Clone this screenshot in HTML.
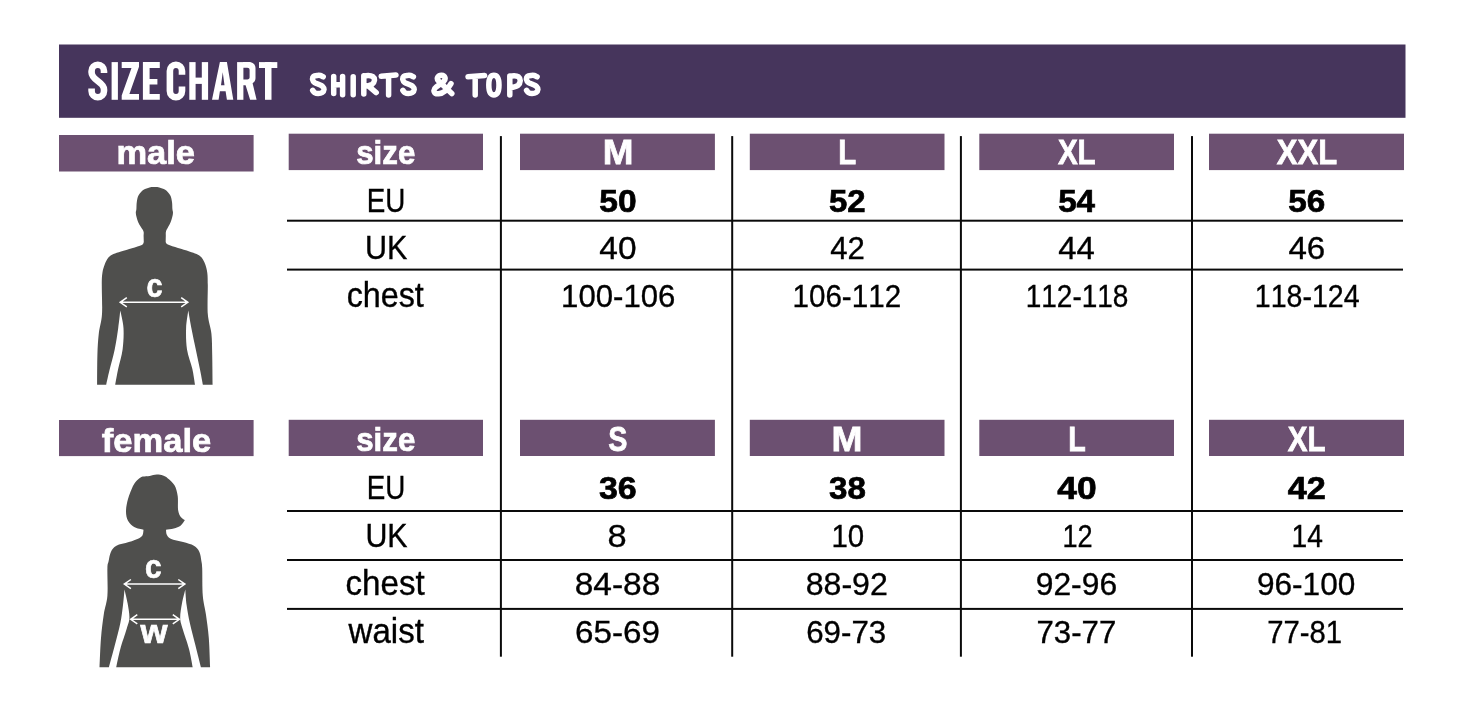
<!DOCTYPE html>
<html lang="en"><head><meta charset="utf-8"><title>Size chart - shirts &amp; tops</title>
<style>
html,body{margin:0;padding:0;background:#fff;}
body{width:1476px;height:709px;position:relative;overflow:hidden;font-family:"Liberation Sans",sans-serif;}
.b,.l,.t,svg{position:absolute;}
.l{background:#0a0a0a;}
.t{left:0;top:0;white-space:nowrap;font-kerning:none;font-variant-ligatures:none;font-size:32px;line-height:32px;transform-origin:0 0;}
.t{-webkit-text-stroke:0.35px currentColor;}
.bd{font-weight:bold;-webkit-text-stroke:0.7px currentColor;}
svg{left:0;top:0;}
#tx{position:absolute;left:0;top:0;width:1476px;height:709px;will-change:transform;}
</style></head><body>
<svg width="1476" height="709" viewBox="0 0 1476 709">
<rect x="59" y="44.5" width="1346.5" height="73.3" fill="#46355c"/>
<rect x="59" y="135" width="194.6" height="36.5" fill="#6c5071"/>
<rect x="288.7" y="133.7" width="194.3" height="36.4" fill="#6c5071"/>
<rect x="520" y="133.7" width="194.9" height="36.4" fill="#6c5071"/>
<rect x="749.8" y="133.7" width="194.7" height="36.4" fill="#6c5071"/>
<rect x="979.3" y="133.7" width="194.7" height="36.4" fill="#6c5071"/>
<rect x="1209" y="133.7" width="195.0" height="36.4" fill="#6c5071"/>
<rect x="59" y="420" width="194.6" height="36.1" fill="#6c5071"/>
<rect x="288.7" y="419.8" width="194.3" height="36.2" fill="#6c5071"/>
<rect x="520" y="419.8" width="194.9" height="36.2" fill="#6c5071"/>
<rect x="749.8" y="419.8" width="194.7" height="36.2" fill="#6c5071"/>
<rect x="979.3" y="419.8" width="194.7" height="36.2" fill="#6c5071"/>
<rect x="1209" y="419.8" width="195.0" height="36.2" fill="#6c5071"/>
<rect x="499.90" y="136.1" width="2.0" height="520.6" fill="#0a0a0a"/>
<rect x="731.20" y="136.1" width="2.0" height="520.6" fill="#0a0a0a"/>
<rect x="959.90" y="136.1" width="2.0" height="520.6" fill="#0a0a0a"/>
<rect x="1191.00" y="136.1" width="2.0" height="520.6" fill="#0a0a0a"/>
<rect x="287" y="219.70" width="1116" height="2.0" fill="#0a0a0a"/>
<rect x="287" y="268.60" width="1116" height="2.0" fill="#0a0a0a"/>
<rect x="287" y="510.00" width="1116" height="2.0" fill="#0a0a0a"/>
<rect x="287" y="559.00" width="1116" height="2.0" fill="#0a0a0a"/>
<rect x="287" y="607.90" width="1116" height="2.0" fill="#0a0a0a"/>
</svg>
<svg width="1476" height="709" viewBox="0 0 1476 709" role="img" aria-label="SIZE CHART - SHIRTS &amp; TOPS">
<g fill="#fff" fill-rule="evenodd"><path d="M111.6 62.1H117.9V99.8H111.6Z"/><path d="M121.7 62.1H139V66.7L129.4 93.89999999999999H139V99.8H121.7V95.39999999999999L131.5 68.0H121.7Z"/><path d="M142.9 62.1H159.8V68.0H149.6V78.9H157.4V84.5H149.6V93.89999999999999H159.8V99.8H142.9Z"/><path d="M189.3 62.1H195.6V99.8H189.3Z"/><path d="M201.8 62.1H208.1V99.8H201.8Z"/><path d="M195 77.6H202V83.9H195Z"/><path d="M219.9 62.1H226.9L233.3 99.8H226.9L225.6 91.2H219.9L218.6 99.8H212Z M221 85.3H224.5L222.75 72.3Z"/><path d="M237.1 62.1H243.4V99.8H237.1Z"/><path d="M243 62.1H248.5C253 62.1 255.5 64.5 255.5 68.5V78C255.5 80.5 254.3 82.3 252.6 83.2L256.6 99.8H250.1L245.6 85.2H243V79.4H247.2C248.8 79.4 249.6 78.6 249.6 77.2V70C249.6 68.6 248.8 67.8 247.2 67.8H243Z"/><path d="M259 62.1H277.3V68.0H259Z"/><path d="M265 62.1H271.5V99.8H265Z"/></g>
<path d="M104 73 V70.9 A6.2 6.2 0 0 0 91.6 70.9 V72.6 C91.6 80.5 104 81.8 104 89.4 V91 A6.2 6.2 0 0 1 91.6 91 V88.6" fill="none" stroke="#fff" stroke-width="6.6" stroke-linecap="butt" stroke-linejoin="round"/>
<path d="M182 74.7 V70.9 A6.05 6.2 0 0 0 169.9 70.9 V91 A6.05 6.2 0 0 0 182 91 V86.4" fill="none" stroke="#fff" stroke-width="6.6" stroke-linecap="butt" stroke-linejoin="round"/>
<path d="M323.20 76.80 C322.75 76.58 321.47 75.73 320.50 75.50 C319.53 75.27 318.55 75.25 317.40 75.40 C316.25 75.55 314.40 75.70 313.60 76.40 C312.80 77.10 312.43 78.57 312.60 79.60 C312.77 80.63 313.62 81.82 314.60 82.60 C315.58 83.38 317.17 83.67 318.50 84.30 C319.83 84.93 321.68 85.52 322.60 86.40 C323.52 87.28 324.07 88.58 324.00 89.60 C323.93 90.62 323.17 91.85 322.20 92.50 C321.23 93.15 319.47 93.48 318.20 93.50 C316.93 93.52 315.52 93.12 314.60 92.60 C313.68 92.08 313.02 90.77 312.70 90.40 M333.7 76.6V93.5 M342.6 76.4V94.7 M333.7 84.9L342.6 84.5 M353.2 76.8V94.7 M363.8 75.8V94 M363.8 76 C367 75.4 371 75.4 372.8 76.6 C375.4 78.4 374.8 82.6 372 84.4 C369.6 85.8 366.6 86.2 364.2 86.4 M368.6 86.2L376.2 92.6 M381.2 76.2L396 75 M388.6 76V95 M413.40 76.80 C412.95 76.58 411.67 75.73 410.70 75.50 C409.73 75.27 408.75 75.25 407.60 75.40 C406.45 75.55 404.60 75.70 403.80 76.40 C403.00 77.10 402.63 78.57 402.80 79.60 C402.97 80.63 403.82 81.82 404.80 82.60 C405.78 83.38 407.37 83.67 408.70 84.30 C410.03 84.93 411.88 85.52 412.80 86.40 C413.72 87.28 414.27 88.58 414.20 89.60 C414.13 90.62 413.37 91.85 412.40 92.50 C411.43 93.15 409.67 93.48 408.40 93.50 C407.13 93.52 405.72 93.12 404.80 92.60 C403.88 92.08 403.22 90.77 402.90 90.40 M451.8 93.6 L438.3 80.8 C436 78 438.3 75.1 441.5 75.2 C445.2 75.4 446.4 79.2 443.4 81.8 L436.2 87 C432.2 90 434 94.2 438.6 93.8 C443.4 93.4 448 89 451 83.6 M468 76.8L484.6 75.5 M475.2 76.5V95 M493.9 75.2 C490.2 75.2 488.8 80 488.8 85.1 C488.8 90.2 490.2 95 493.9 95 C497.6 95 499 90.2 499 85.1 C499 80 497.6 75.2 493.9 75.2Z M509.8 76V95 M509.8 76.2 C513 75.6 516.5 75.4 518.4 76.8 C521 78.8 520.8 83 518 85.4 C516 87 512.8 87.4 510.2 87.6 M537.10 76.80 C536.65 76.58 535.37 75.73 534.40 75.50 C533.43 75.27 532.45 75.25 531.30 75.40 C530.15 75.55 528.30 75.70 527.50 76.40 C526.70 77.10 526.33 78.57 526.50 79.60 C526.67 80.63 527.52 81.82 528.50 82.60 C529.48 83.38 531.07 83.67 532.40 84.30 C533.73 84.93 535.58 85.52 536.50 86.40 C537.42 87.28 537.97 88.58 537.90 89.60 C537.83 90.62 537.07 91.85 536.10 92.50 C535.13 93.15 533.37 93.48 532.10 93.50 C530.83 93.52 529.42 93.12 528.50 92.60 C527.58 92.08 526.92 90.77 526.60 90.40" fill="none" stroke="#fff" stroke-width="5.5" stroke-linecap="round" stroke-linejoin="round"/>
<path d="M143.80 242.00 C143.77 241.00 143.65 237.77 143.60 236.00 C143.55 234.23 144.00 232.97 143.50 231.40 C143.00 229.83 141.48 228.13 140.60 226.60 C139.72 225.07 138.87 223.77 138.20 222.20 C137.53 220.63 137.00 218.77 136.60 217.20 C136.20 215.63 135.83 214.17 135.80 212.80 C135.77 211.43 136.23 210.80 136.40 209.00 C136.57 207.20 136.43 204.30 136.80 202.00 C137.17 199.70 137.47 197.23 138.60 195.20 C139.73 193.17 141.78 191.10 143.60 189.80 C145.42 188.50 147.70 187.87 149.50 187.40 C151.30 186.93 152.77 187.00 154.40 187.00 C156.03 187.00 157.50 186.93 159.30 187.40 C161.10 187.87 163.38 188.50 165.20 189.80 C167.02 191.10 169.07 193.17 170.20 195.20 C171.33 197.23 171.63 199.70 172.00 202.00 C172.37 204.30 172.23 207.20 172.40 209.00 C172.57 210.80 173.03 211.43 173.00 212.80 C172.97 214.17 172.60 215.63 172.20 217.20 C171.80 218.77 171.23 220.63 170.60 222.20 C169.97 223.77 169.17 225.07 168.40 226.60 C167.63 228.13 166.43 229.83 166.00 231.40 C165.57 232.97 165.85 234.23 165.80 236.00 C165.75 237.77 165.72 241.00 165.70 242.00 C166.05 242.43 165.75 243.60 167.80 244.60 C169.85 245.60 174.42 246.87 178.00 248.00 C181.58 249.13 186.20 250.40 189.30 251.40 C192.40 252.40 194.55 252.97 196.60 254.00 C198.65 255.03 200.15 255.85 201.60 257.60 C203.05 259.35 204.35 261.93 205.30 264.50 C206.25 267.07 206.88 269.58 207.30 273.00 C207.72 276.42 207.72 278.15 207.80 285.00 C207.88 291.85 207.20 306.02 207.80 314.10 C208.40 322.18 210.67 326.73 211.40 333.50 C212.13 340.27 212.00 346.17 212.20 354.70 C212.40 363.23 212.53 379.70 212.60 384.70 L202.90 384.70 C202.45 382.33 201.38 376.38 200.20 370.50 C199.02 364.62 197.27 356.45 195.80 349.40 C194.33 342.35 192.65 334.67 191.40 328.20 C190.15 321.73 188.82 313.53 188.30 310.60 C187.93 313.53 186.32 321.73 186.10 328.20 C185.88 334.67 185.97 342.63 187.00 349.40 C188.03 356.17 190.97 362.92 192.30 368.80 C193.63 374.68 194.55 382.05 195.00 384.70 L115.20 384.70 C115.70 382.05 116.97 374.68 118.20 368.80 C119.43 362.92 121.72 356.17 122.60 349.40 C123.48 342.63 123.88 334.67 123.50 328.20 C123.12 321.73 120.83 313.53 120.30 310.60 C119.95 313.53 119.13 321.73 118.20 328.20 C117.27 334.67 116.17 342.35 114.70 349.40 C113.23 356.45 110.82 364.62 109.40 370.50 C107.98 376.38 106.73 382.33 106.20 384.70 L97.10 384.70 C97.15 379.70 97.12 363.23 97.40 354.70 C97.68 346.17 98.03 340.27 98.80 333.50 C99.57 326.73 101.50 322.18 102.00 314.10 C102.50 306.02 101.73 291.85 101.80 285.00 C101.87 278.15 101.92 276.42 102.40 273.00 C102.88 269.58 103.70 267.07 104.70 264.50 C105.70 261.93 106.95 259.35 108.40 257.60 C109.85 255.85 111.30 255.03 113.40 254.00 C115.50 252.97 117.90 252.37 121.00 251.40 C124.10 250.43 128.53 249.27 132.00 248.20 C135.47 247.13 139.83 246.03 141.80 245.00 C143.77 243.97 143.47 242.50 143.80 242.00 Z" fill="#4f4f4d"/>
<path d="M143.50 529.80 C141.95 529.35 136.78 528.60 134.20 527.10 C131.62 525.60 129.37 523.40 128.00 520.80 C126.63 518.20 126.00 515.12 126.00 511.50 C126.00 507.88 126.77 503.48 128.00 499.10 C129.23 494.72 131.73 488.47 133.40 485.20 C135.07 481.93 136.45 480.93 138.00 479.50 C139.55 478.07 140.75 477.20 142.70 476.60 C144.65 476.00 147.37 476.23 149.70 475.90 C152.03 475.57 154.48 474.65 156.70 474.60 C158.92 474.55 161.18 475.00 163.00 475.60 C164.82 476.20 165.68 476.60 167.60 478.20 C169.52 479.80 172.82 482.23 174.50 485.20 C176.18 488.17 177.10 491.87 177.70 496.00 C178.30 500.13 177.58 506.50 178.10 510.00 C178.62 513.50 179.67 515.32 180.80 517.00 C181.93 518.68 184.22 519.58 184.90 520.10 C184.22 521.00 182.65 524.08 180.80 525.50 C178.95 526.92 176.27 527.88 173.80 528.60 C171.33 529.32 167.30 529.60 166.00 529.80 C166.13 530.63 166.02 533.32 166.80 534.80 C167.58 536.28 167.98 537.48 170.70 538.70 C173.42 539.92 179.23 540.93 183.10 542.10 C186.97 543.27 191.18 544.07 193.90 545.70 C196.62 547.33 198.15 549.32 199.40 551.90 C200.65 554.48 200.93 558.47 201.40 561.20 C201.87 563.93 201.97 562.53 202.20 568.30 C202.43 574.07 202.18 588.15 202.80 595.80 C203.42 603.45 204.90 607.17 205.90 614.20 C206.90 621.23 208.10 629.15 208.80 638.00 C209.50 646.85 209.88 662.42 210.10 667.30 L200.90 667.30 C199.98 663.63 197.23 652.63 195.40 645.30 C193.57 637.97 191.37 630.02 189.90 623.30 C188.43 616.58 187.37 610.65 186.60 605.00 C185.83 599.35 185.52 592.00 185.30 589.40 C184.75 591.70 182.85 598.47 182.00 603.20 C181.15 607.93 180.10 613.53 180.20 617.80 C180.30 622.07 181.13 623.60 182.60 628.80 C184.07 634.00 187.32 642.58 189.00 649.00 C190.68 655.42 192.08 664.25 192.70 667.30 L116.20 667.30 C116.88 664.25 118.55 655.42 120.30 649.00 C122.05 642.58 125.18 634.00 126.70 628.80 C128.22 623.60 129.25 622.07 129.40 617.80 C129.55 613.53 128.42 607.93 127.60 603.20 C126.78 598.47 125.02 591.70 124.50 589.40 C124.25 592.00 123.70 599.35 123.00 605.00 C122.30 610.65 121.67 616.58 120.30 623.30 C118.93 630.02 116.70 637.97 114.80 645.30 C112.90 652.63 109.88 663.63 108.90 667.30 L99.50 667.30 C99.75 662.42 100.28 646.85 101.00 638.00 C101.72 629.15 102.73 621.23 103.80 614.20 C104.87 607.17 106.80 603.45 107.40 595.80 C108.00 588.15 107.20 574.07 107.40 568.30 C107.60 562.53 108.02 563.93 108.60 561.20 C109.18 558.47 109.60 554.48 110.90 551.90 C112.20 549.32 113.42 547.33 116.40 545.70 C119.38 544.07 124.93 543.40 128.80 542.10 C132.67 540.80 137.28 539.12 139.60 537.90 C141.92 536.68 142.05 536.15 142.70 534.80 C143.35 533.45 143.37 530.63 143.50 529.80 Z" fill="#4f4f4d"/>
<path d="M120.2 302.3H187.8M126.8 297.7L120.2 302.3L126.8 306.90000000000003M181.20000000000002 297.7L187.8 302.3L181.20000000000002 306.90000000000003" fill="none" stroke="#fff" stroke-width="1.5" stroke-linecap="butt" stroke-linejoin="miter"/>
<path d="M124.3 584.1H184.9M130.9 579.5L124.3 584.1L130.9 588.7M178.3 579.5L184.9 584.1L178.3 588.7" fill="none" stroke="#fff" stroke-width="1.5" stroke-linecap="butt" stroke-linejoin="miter"/>
<path d="M130.7 619.3H179.4M137.29999999999998 614.6999999999999L130.7 619.3L137.29999999999998 623.9M172.8 614.6999999999999L179.4 619.3L172.8 623.9" fill="none" stroke="#fff" stroke-width="1.5" stroke-linecap="butt" stroke-linejoin="miter"/>
</svg>
<div id="tx">
<div class="t bd" style="color:#fff;transform:translate(116.39px,135.31px) scale(1.0774,1.0625)">male</div>
<div class="t bd" style="color:#fff;transform:translate(356.24px,135.01px) scale(0.9767,1.0625)">size</div>
<div class="t bd" style="color:#fff;transform:translate(602.65px,134.71px) scale(1.1528,1.0813)">M</div>
<div class="t bd" style="color:#fff;transform:translate(838.37px,134.71px) scale(0.9186,1.0813)">L</div>
<div class="t bd" style="color:#fff;transform:translate(1057.89px,134.71px) scale(0.9246,1.0813)">XL</div>
<div class="t bd" style="color:#fff;transform:translate(1276.80px,134.71px) scale(0.9689,1.0813)">XXL</div>
<div class="t bd" style="color:#fff;transform:translate(101.84px,423.21px) scale(1.0788,1.0625)">female</div>
<div class="t bd" style="color:#fff;transform:translate(356.24px,422.01px) scale(0.9767,1.0625)">size</div>
<div class="t bd" style="color:#fff;transform:translate(608.33px,421.71px) scale(0.8972,1.0813)">S</div>
<div class="t bd" style="color:#fff;transform:translate(831.44px,421.71px) scale(1.1614,1.0813)">M</div>
<div class="t bd" style="color:#fff;transform:translate(1068.31px,421.71px) scale(0.8953,1.0813)">L</div>
<div class="t bd" style="color:#fff;transform:translate(1287.79px,421.71px) scale(0.9246,1.0813)">XL</div>
<div class="t" style="color:#000;transform:translate(366.67px,183.21px) scale(0.8685,1.0625)">EU</div>
<div class="t" style="color:#000;transform:translate(365.08px,230.21px) scale(0.9529,1.0625)">UK</div>
<div class="t" style="color:#000;transform:translate(346.69px,278.16px) scale(1.0076,1.0719)">chest</div>
<div class="t bd" style="color:#000;transform:translate(599.32px,184.88px) scale(1.0486,0.9969)">50</div>
<div class="t bd" style="color:#000;transform:translate(829.03px,184.88px) scale(1.0280,0.9969)">52</div>
<div class="t bd" style="color:#000;transform:translate(1058.13px,184.88px) scale(1.0378,0.9969)">54</div>
<div class="t bd" style="color:#000;transform:translate(1288.32px,184.88px) scale(1.0389,0.9969)">56</div>
<div class="t" style="color:#000;transform:translate(599.30px,231.97px) scale(1.0458,0.9938)">40</div>
<div class="t" style="color:#000;transform:translate(830.14px,231.97px) scale(0.9732,0.9938)">42</div>
<div class="t" style="color:#000;transform:translate(1058.21px,231.97px) scale(1.0285,0.9938)">44</div>
<div class="t" style="color:#000;transform:translate(1288.40px,231.97px) scale(1.0348,0.9938)">46</div>
<div class="t" style="color:#000;transform:translate(561.06px,279.87px) scale(0.9730,0.9938)">100-106</div>
<div class="t" style="color:#000;transform:translate(792.47px,279.87px) scale(0.9249,0.9938)">106-112</div>
<div class="t" style="color:#000;transform:translate(1025.68px,279.87px) scale(0.8748,0.9938)">112-118</div>
<div class="t" style="color:#000;transform:translate(1254.74px,279.87px) scale(0.8928,0.9938)">118-124</div>
<div class="t" style="color:#000;transform:translate(366.67px,470.31px) scale(0.8685,1.0625)">EU</div>
<div class="t" style="color:#000;transform:translate(365.40px,518.31px) scale(0.9482,1.0625)">UK</div>
<div class="t" style="color:#000;transform:translate(345.56px,565.86px) scale(1.0342,1.0719)">chest</div>
<div class="t" style="color:#000;transform:translate(348.58px,613.96px) scale(1.0319,1.0719)">waist</div>
<div class="t bd" style="color:#000;transform:translate(598.98px,471.88px) scale(1.0605,0.9969)">36</div>
<div class="t bd" style="color:#000;transform:translate(828.99px,471.88px) scale(1.0354,0.9969)">38</div>
<div class="t bd" style="color:#000;transform:translate(1057.33px,471.88px) scale(1.1060,0.9969)">40</div>
<div class="t bd" style="color:#000;transform:translate(1287.64px,471.88px) scale(1.0682,0.9969)">42</div>
<div class="t" style="color:#000;transform:translate(607.61px,520.17px) scale(1.0749,0.9938)">8</div>
<div class="t" style="color:#000;transform:translate(831.38px,520.17px) scale(0.9185,0.9938)">10</div>
<div class="t" style="color:#000;transform:translate(1062.54px,520.17px) scale(0.8475,0.9938)">12</div>
<div class="t" style="color:#000;transform:translate(1291.46px,520.17px) scale(0.8804,0.9938)">14</div>
<div class="t" style="color:#000;transform:translate(574.64px,567.97px) scale(1.0473,0.9938)">84-88</div>
<div class="t" style="color:#000;transform:translate(805.70px,567.97px) scale(1.0035,0.9938)">88-92</div>
<div class="t" style="color:#000;transform:translate(1035.68px,567.97px) scale(0.9946,0.9938)">92-96</div>
<div class="t" style="color:#000;transform:translate(1256.89px,567.97px) scale(0.9874,0.9938)">96-100</div>
<div class="t" style="color:#000;transform:translate(575.00px,615.97px) scale(1.0370,0.9938)">65-69</div>
<div class="t" style="color:#000;transform:translate(806.18px,615.97px) scale(0.9772,0.9938)">69-73</div>
<div class="t" style="color:#000;transform:translate(1036.49px,615.97px) scale(0.9750,0.9938)">73-77</div>
<div class="t" style="color:#000;transform:translate(1267.17px,615.97px) scale(0.9155,0.9938)">77-81</div>
<div class="t bd" style="color:#fff;transform:translate(146.49px,268.81px) scale(0.9005,1.0625)">c</div>
<div class="t bd" style="color:#fff;transform:translate(145.06px,549.21px) scale(0.9311,1.0625)">c</div>
<div class="t bd" style="color:#fff;transform:translate(140.42px,614.50px) scale(1.0842,1.0406)">w</div>
</div>
</body></html>
